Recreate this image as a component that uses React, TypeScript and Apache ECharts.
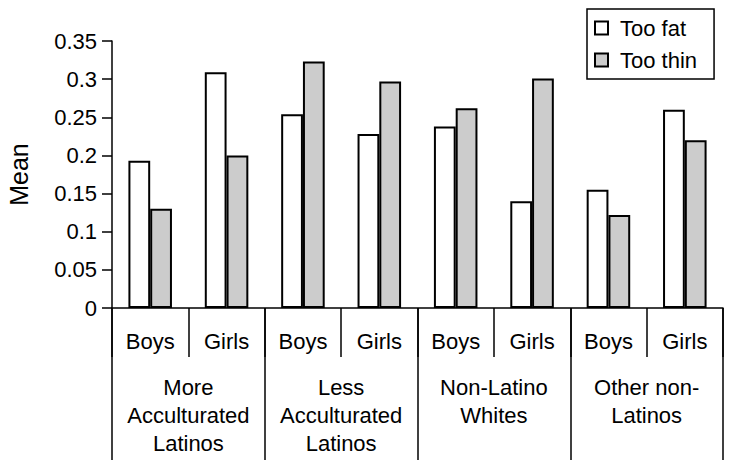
import React, { useEffect, useRef } from "react";
import * as echarts from "echarts";

const subCategories = ["Boys", "Girls", "Boys", "Girls", "Boys", "Girls", "Boys", "Girls"];
const groups = [
  "More\nAcculturated\nLatinos",
  "Less\nAcculturated\nLatinos",
  "Non-Latino\nWhites",
  "Other non-\nLatinos",
];
const tooFat = [0.193, 0.309, 0.254, 0.228, 0.238, 0.14, 0.155, 0.26];
const tooThin = [0.13, 0.2, 0.323, 0.297, 0.262, 0.301, 0.122, 0.22];
const seriesNames = ["Too fat", "Too thin"];

const FONT = "'Liberation Sans', Arial, sans-serif";

export default function App() {
  const ref = useRef<HTMLDivElement>(null);
  useEffect(() => {
    if (!ref.current) return;
    const chart = echarts.init(ref.current, null, { renderer: "svg" });
    chart.setOption({
      animation: false,
      textStyle: { fontFamily: FONT, color: "#000" },
      grid: { left: 112, right: 6, top: 41, bottom: 161, containLabel: false, outerBoundsMode: "none" },
      legend: {
        orient: "vertical",
        left: 587,
        top: 9,
        padding: [8, 17, 8, 7],
        itemGap: 10,
        itemWidth: 13,
        itemHeight: 13,
        borderColor: "#000",
        borderWidth: 1.5,
        borderRadius: 0,
        textStyle: { fontFamily: FONT, fontSize: 22, color: "#000", padding: [0, 0, 0, 7] },
        data: [
          { name: seriesNames[0], icon: "rect", itemStyle: { color: "#fff", borderColor: "#000", borderWidth: 2 } },
          { name: seriesNames[1], icon: "rect", itemStyle: { color: "#cccccc", borderColor: "#000", borderWidth: 2 } },
        ],
      },
      xAxis: [
        {
          type: "category",
          data: subCategories,
          position: "bottom",
          axisLine: { show: true, lineStyle: { color: "#000", width: 1.5 } },
          axisTick: { show: true, length: 49, interval: 0, lineStyle: { color: "#000", width: 1.5 } },
          axisLabel: { interval: 0, margin: 22, fontSize: 22, color: "#000", fontFamily: FONT },
        },
        {
          type: "category",
          data: groups,
          position: "bottom",
          axisLine: { show: false },
          axisTick: { show: true, length: 152, interval: 0, lineStyle: { color: "#000", width: 1.5 } },
          axisLabel: { interval: 0, margin: 65, fontSize: 22, lineHeight: 28, color: "#000", fontFamily: FONT },
        },
      ],
      yAxis: {
        type: "value",
        min: 0,
        max: 0.35,
        interval: 0.05,
        name: "Mean",
        nameLocation: "middle",
        nameRotate: 90,
        nameGap: 81,
        nameTextStyle: { fontSize: 25, color: "#000", fontFamily: FONT },
        splitLine: { show: false },
        axisLine: { show: true, lineStyle: { color: "#000", width: 1.5 } },
        axisTick: { show: true, length: 10, lineStyle: { color: "#000", width: 1.5 } },
        axisLabel: { margin: 15, fontSize: 22, color: "#000", fontFamily: FONT },
      },
      series: [
        {
          name: seriesNames[0],
          type: "bar",
          data: tooFat,
          barGap: "0%",
          barCategoryGap: "43%",
          itemStyle: { color: "#ffffff", borderColor: "#000", borderWidth: 2 },
        },
        {
          name: seriesNames[1],
          type: "bar",
          data: tooThin,
          barGap: "0%",
          barCategoryGap: "43%",
          itemStyle: { color: "#cccccc", borderColor: "#000", borderWidth: 2 },
        },
      ],
    });
    return () => chart.dispose();
  }, []);
  return <div ref={ref} style={{ width: 729, height: 469, position: "absolute", left: 0, top: 0 }} />;
}
